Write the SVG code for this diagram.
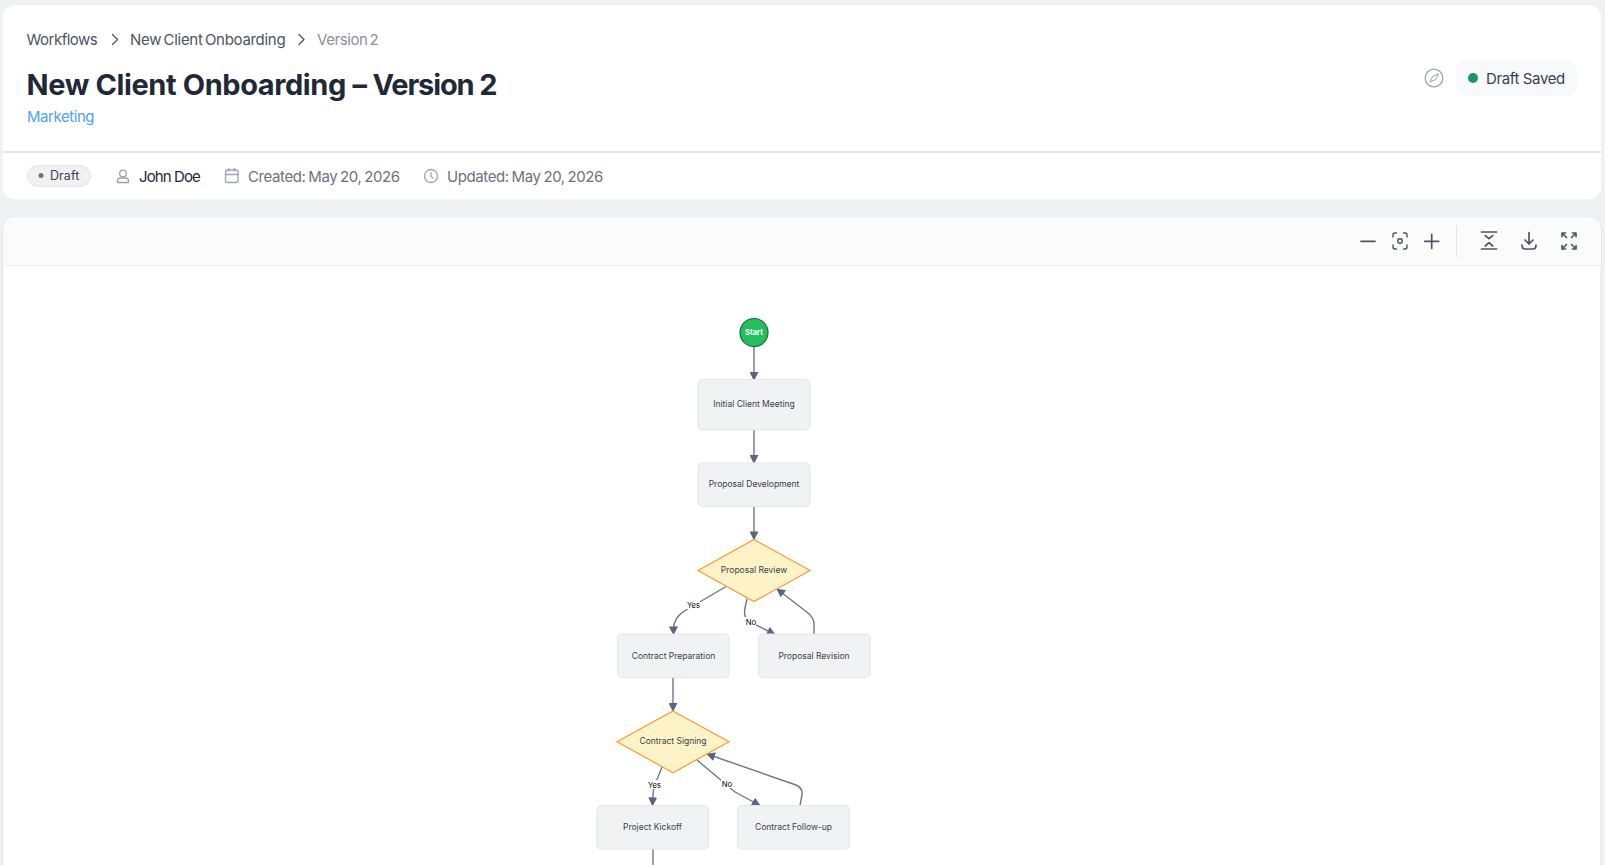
<svg xmlns="http://www.w3.org/2000/svg" width="1605" height="865" viewBox="0 0 1605 865">
<style>
text{font-family:Inter,"Liberation Sans",sans-serif}
.node{fill:#f1f2f4;stroke:#e4e6eb;stroke-width:1.2}
.dia{fill:#fef3c7;stroke:#f59e2b;stroke-width:1.2}
.nl{font-size:8.5px;fill:#374151;text-anchor:middle}
.el{font-size:7.7px;fill:#000;text-anchor:middle}
.lab{fill:#fff;stroke:none}
.edge{fill:none;stroke:#6b7690;stroke-width:1.4}
.ic{fill:none;stroke:#9ca3af;stroke-width:1.3;stroke-linecap:round;stroke-linejoin:round}
.tb{fill:none;stroke:#4b5563;stroke-width:1.7;stroke-linecap:round;stroke-linejoin:round}
.crumb{font-size:15px;fill:#4b5563;letter-spacing:-.3px;word-spacing:-1.500px}
.meta{font-size:15px;fill:#6b7280;letter-spacing:-.4px;word-spacing:-1px}
</style>
<defs>
<marker id="arrow" viewBox="0 0 10 10" refX="9" refY="5" markerWidth="9" markerHeight="9" markerUnits="userSpaceOnUse" orient="auto"><path d="M0 0L10 5L0 10Z" fill="#5a6580"/></marker>
</defs>
<rect width="1605" height="865" fill="#f0f1f3"/>
<g id="header">
<rect x="2.500" y="5" width="1598.500" height="194.500" rx="13" fill="#fff"/>
<rect x="2.500" y="151" width="1598.500" height="2" fill="#e2e4e9"/>
<text class="crumb" x="26.600" y="45" style="letter-spacing:-.52px">Workflows</text>
<path class="tb" style="stroke-width:1.300" d="M112.500 34.500l5 5-5 5"/>
<text class="crumb" x="130" y="45">New Client Onboarding</text>
<path class="tb" style="stroke-width:1.300" d="M299 34.500l5 5-5 5"/>
<text class="crumb" x="317" y="45" style="fill:#8b919c;letter-spacing:-.4px;word-spacing:-2px">Version 2</text>
<text x="26.600" y="94.500" font-size="29" font-weight="700" fill="#1f2937" letter-spacing="-.4">New Client Onboarding <tspan x="352.500">– </tspan><tspan x="372.600" letter-spacing="-1.150">Version 2</tspan></text>
<text x="27" y="122" font-size="15" fill="#4ba3f7" letter-spacing="-.45">Marketing</text>
<circle class="ic" cx="1434" cy="78" r="8.800"/>
<path class="ic" d="M1438 74l-5.500 2.500-2.500 5.500 5.500-2.500z" style="stroke-width:1"/>
<rect x="1456" y="60" width="121" height="36" rx="10" fill="#f8f9fb"/>
<circle cx="1473" cy="78" r="5" fill="#17996a"/>
<text x="1486" y="84" font-size="15" fill="#374151" letter-spacing="-.37">Draft Saved</text>
<rect x="27.500" y="165.500" width="63" height="21" rx="10.500" fill="#f0f1f3" stroke="#e2e4e9"/>
<circle cx="41" cy="175.500" r="2.500" fill="#6b7280"/>
<text x="50" y="179.500" font-size="12.500" fill="#374151" letter-spacing=".05">Draft</text>
<circle class="ic" cx="123" cy="173.500" r="3.300"/>
<path class="ic" d="M117.500 182.500v-1.500q0-3 3-3h5q3 0 3 3v1.500z"/>
<text x="139" y="182" font-size="15" fill="#1f2937" letter-spacing="-.9">John Doe</text>
<rect class="ic" x="225.500" y="170" width="12.500" height="12.500" rx="2"/>
<path class="ic" d="M225.500 174.500h12.500M229 168.500v2.500M234.500 168.500v2.500"/>
<text class="meta" x="248" y="182">Created: May 20, 2026</text>
<circle class="ic" cx="431" cy="176" r="6.500"/>
<path class="ic" d="M431 172.500v4l2 1.500"/>
<text class="meta" x="447" y="182">Updated: May 20, 2026</text>
</g>
<g id="canvas">
<rect x="2.500" y="216.500" width="1598.500" height="670" rx="13" fill="#fff" stroke="#e2e4e9"/>
<path d="M3 265V229.500a13 13 0 0 1 13-13H1588a13 13 0 0 1 13 13V265z" fill="#fbfbfc"/>
<rect x="3" y="265" width="1598" height="1" fill="#eef0f2"/>
</g>
<g id="toolbar">
<path class="tb" d="M1361 241.300h14M1424.700 241.300h14M1431.700 234.300v14"/>
<circle class="tb" style="stroke-width:1.400" cx="1400" cy="241" r="2.300"/>
<path class="tb" style="stroke-width:1.400" d="M1393 237v-2q0-2 2-2h1.500M1403.500 233h1.500q2 0 2 2v2M1407 245v2q0 2-2 2h-1.500M1396.500 249h-1.500q-2 0-2-2v-2"/>
<path class="tb" d="M1481.500 232h15M1481.500 249h15M1485.300 235.700l3.700 3 3.700-3M1485.300 246l3.700-3.300 3.700 3.300"/>
<path class="tb" d="M1529 232.500v11.500M1525 240l4 4 4-4M1522 245q0 4 3 4h8q3 0 3-4"/>
<path class="tb" d="M1562 236.500v-3.500h3.500M1572.500 233h3.500v3.500M1576 245.500v3.500h-3.500M1565.500 249h-3.500v-3.500M1563 234l3.500 3.500M1575 234l-3.500 3.500M1575 248l-3.500-3.500M1563 248l3.500-3.500"/>
<rect x="1456" y="225" width="1" height="32" fill="#e2e4e9"/>
</g>
<g id="connectors">
<path class="edge" marker-end="url(#arrow)" d="M754 347V380"/>
<path class="edge" marker-end="url(#arrow)" d="M754 430V463"/>
<path class="edge" marker-end="url(#arrow)" d="M754 506.500V539.500"/>
<path class="edge" marker-end="url(#arrow)" d="M727 586L686 610Q673.500 617 673.500 630V634.500"/>
<path class="edge" marker-end="url(#arrow)" d="M747 599L745 608Q743 618 750 622L775 634.500"/>
<path class="edge" marker-end="url(#arrow)" d="M814 634.500V624Q814 618 808 613L777 589"/>
<path class="edge" marker-end="url(#arrow)" d="M673 677.500V711"/>
<path class="edge" marker-end="url(#arrow)" d="M662 767L654 787Q653 791 652.500 805.500"/>
<path class="edge" marker-end="url(#arrow)" d="M697 760L735 792L760 805.500"/>
<path class="edge" marker-end="url(#arrow)" d="M800 805.500L802 795Q803 788 796 785L707 754"/>
<path class="edge" d="M653 849V865"/>
</g>
<g id="start"><circle cx="754" cy="332.500" r="14" fill="#22c05c" stroke="#166b3c" stroke-width="1.200"/><text x="754" y="335" font-size="7.500" font-weight="700" fill="#fff" text-anchor="middle">Start</text></g>
<g id="initial-client-meeting"><rect class="node" x="698" y="379.500" width="112" height="50.500" rx="4.500"/><text class="nl" x="754" y="407">Initial Client Meeting</text></g>
<g id="proposal-development"><rect class="node" x="698" y="463" width="112" height="43.500" rx="4.500"/><text class="nl" x="754" y="487">Proposal Development</text></g>
<g id="proposal-review"><path class="dia" d="M754 539.500L810 570.500L754 601.500L698 570.500Z"/><text class="nl" x="754" y="573">Proposal Review</text></g>
<g id="contract-preparation"><rect class="node" x="617.500" y="634" width="111.500" height="43.500" rx="4.500"/><text class="nl" x="673.500" y="659">Contract Preparation</text></g>
<g id="proposal-revision"><rect class="node" x="758.500" y="634" width="111.500" height="43.500" rx="4.500"/><text class="nl" x="814" y="659">Proposal Revision</text></g>
<g id="contract-signing"><path class="dia" d="M673 711L729 741.700L673 772.700L617 741.700Z"/><text class="nl" x="673" y="744">Contract Signing</text></g>
<g id="project-kickoff"><rect class="node" x="597" y="805.500" width="111.500" height="43.500" rx="4.500"/><text class="nl" x="652.500" y="830">Project Kickoff</text></g>
<g id="contract-follow-up"><rect class="node" x="737.500" y="805.500" width="112" height="43.500" rx="4.500"/><text class="nl" x="793.500" y="830">Contract Follow-up</text></g>
<g id="edge-labels">
<rect class="lab" x="686" y="600" width="14" height="9"/><text class="el" x="693.500" y="607.500">Yes</text>
<rect class="lab" x="745" y="617" width="11" height="9"/><text class="el" x="751" y="624.500">No</text>
<rect class="lab" x="648" y="780" width="14" height="9"/><text class="el" x="654.500" y="788">Yes</text>
<rect class="lab" x="721" y="779" width="11" height="9"/><text class="el" x="727" y="786.500">No</text>
</g>
</svg>
